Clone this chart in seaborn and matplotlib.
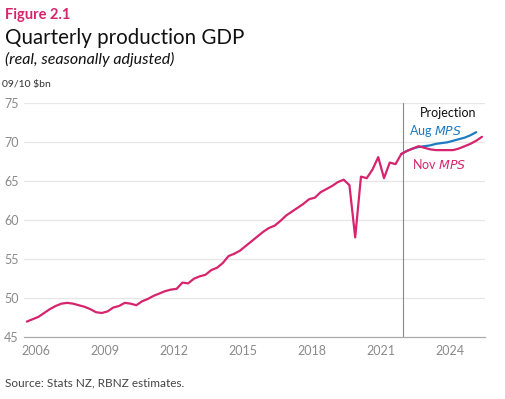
import numpy as np
import pandas as pd
import matplotlib
matplotlib.use("Agg")
import matplotlib.pyplot as plt
import seaborn as sns

# quarterly production GDP, 09/10 $bn
actual_start = 2006
actual = [47.0, 47.3, 47.6, 48.1, 48.6, 49.0, 49.3, 49.4,
          49.3, 49.1, 48.9, 48.6, 48.2, 48.1, 48.3, 48.8,
          49.0, 49.4, 49.3, 49.1, 49.6, 49.9, 50.3, 50.6,
          50.9, 51.1, 51.2, 52.0, 51.9, 52.5, 52.8, 53.0,
          53.6, 53.9, 54.5, 55.4, 55.7, 56.1, 56.7, 57.3,
          57.9, 58.5, 59.0, 59.3, 59.9, 60.6, 61.1, 61.6,
          62.1, 62.7, 62.9, 63.6, 64.0, 64.4, 64.9, 65.2,
          64.5, 57.8, 65.6, 65.4, 66.5, 68.1, 65.4, 67.4,
          67.2, 68.5]
# projections from 2022Q3
nov_mps = [68.9, 69.2, 69.5, 69.3, 69.1, 69.0, 69.0, 69.0,
           69.0, 69.2, 69.5, 69.8, 70.2, 70.7]
aug_mps = [68.9, 69.2, 69.4, 69.5, 69.6, 69.8, 69.9, 70.0,
           70.2, 70.4, 70.6, 70.9, 71.3]
year_labels = [2006, 2009, 2012, 2015, 2018, 2021, 2024]
projection_start = 2022.45

pink = "#d6246e"
blue = "#1f7cc1"
grey = "#8a8a8a"


def quarters(start_idx, n):
    # mid-quarter position in decimal years
    return actual_start + (np.arange(start_idx, start_idx + n) + 0.5) / 4


n_act = len(actual)
df_act = pd.DataFrame({"date": quarters(0, n_act), "gdp": actual, "series": "Actual"})
df_nov = pd.DataFrame({"date": quarters(n_act - 1, len(nov_mps) + 1),
                       "gdp": [actual[-1]] + nov_mps, "series": "Nov"})
df_aug = pd.DataFrame({"date": quarters(n_act - 1, len(aug_mps) + 1),
                       "gdp": [actual[-1]] + aug_mps, "series": "Aug"})

sns.set_style("white")
plt.rcParams["font.family"] = ["Lato", "DejaVu Sans"]

fig = plt.figure(figsize=(5.05, 3.99), dpi=100)
ax = fig.add_axes([0.0475, 0.155, 0.9125, 0.586])

sns.lineplot(data=df_aug, x="date", y="gdp", color=blue, lw=1.6, ax=ax)
sns.lineplot(data=df_nov, x="date", y="gdp", color=pink, lw=1.6, ax=ax)
sns.lineplot(data=df_act, x="date", y="gdp", color=pink, lw=1.6, ax=ax)

ax.set_xlim(2006, 2026)
ax.set_ylim(45, 75)
ax.set_xlabel("")
ax.set_ylabel("")

ax.set_yticks(range(45, 80, 5))
ax.tick_params(axis="y", length=0, pad=4, labelsize=9, labelcolor=grey)
for y in range(50, 80, 5):
    ax.axhline(y, color="#e6e6e6", lw=0.9, zorder=0)

ax.set_xticks(range(2006, 2027))
ax.set_xticklabels([])
ax.tick_params(axis="x", which="major", length=3, width=0.8, color="#aaaaaa")
ax.set_xticks([y + 0.5 for y in year_labels], minor=True)
ax.set_xticklabels([str(y) for y in year_labels], minor=True)
ax.tick_params(axis="x", which="minor", length=0, pad=6, labelsize=9, labelcolor=grey)

for s in ["top", "right", "left"]:
    ax.spines[s].set_visible(False)
ax.spines["bottom"].set_color("#aaaaaa")
ax.spines["bottom"].set_linewidth(0.9)

ax.axvline(projection_start, color="#888888", lw=0.8, zorder=1)

ax.text(2023.2, 73.7, "Projection", fontsize=9, color="#111111", ha="left", va="center")
ax.text(2022.7, 71.4, "Aug $\\mathit{MPS}$", fontsize=9, color=blue, ha="left", va="center")
ax.text(2022.85, 67.2, "Nov $\\mathit{MPS}$", fontsize=9, color=pink, ha="left", va="center")

fig.text(0.01, 0.962, "Figure 2.1", fontsize=10.5, color=pink, fontweight="bold", va="center")
fig.text(0.01, 0.905, "Quarterly production GDP", fontsize=14.8, color="#111111", va="center")
fig.text(0.01, 0.852, "(real, seasonally adjusted)", fontsize=11.5, style="italic",
         color="#111111", va="center")
fig.text(0.004, 0.788, "09/10 $bn", fontsize=7.5, color="#333333", va="center")
fig.text(0.01, 0.04, "Source: Stats NZ, RBNZ estimates.", fontsize=8.5, color="#444444",
         va="center")

fig.savefig("out.png", dpi=100)
